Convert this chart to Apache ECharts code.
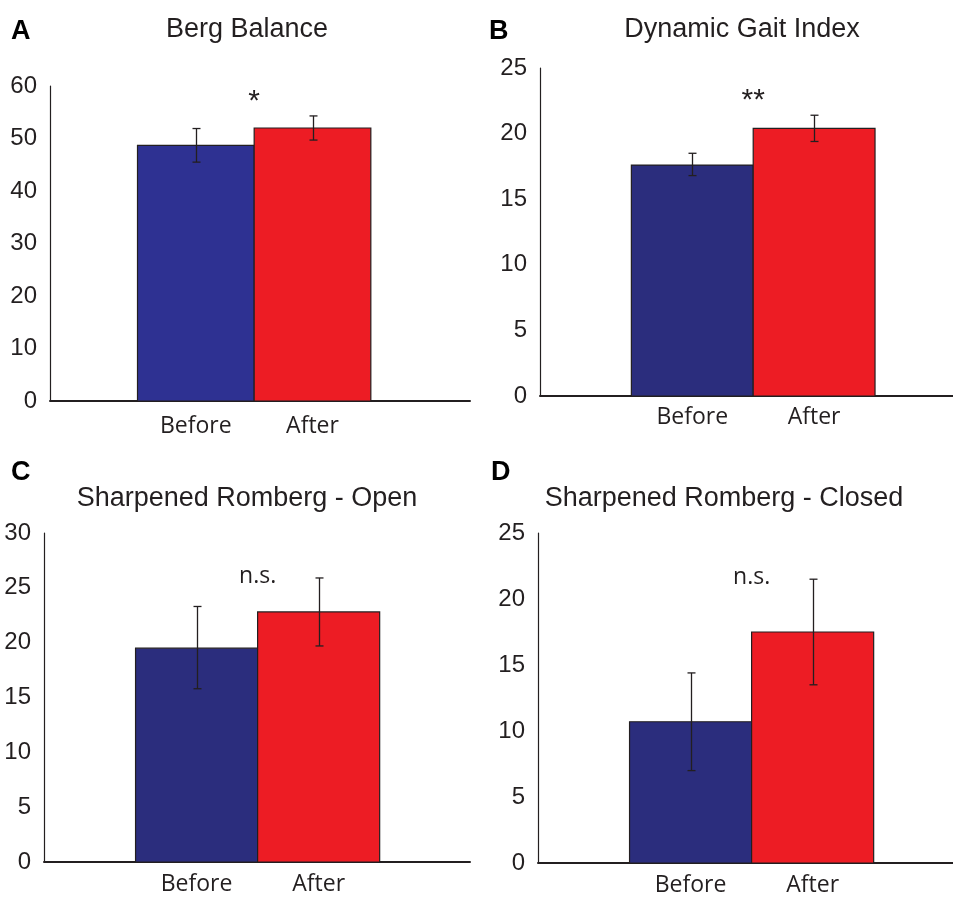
<!DOCTYPE html>
<html>
<head>
<meta charset="utf-8">
<script src="https://cdn.jsdelivr.net/npm/echarts@6/dist/echarts.min.js"></script>
<style>
  html, body { margin: 0; padding: 0; background: #fff; }
  #chart { width: 953px; height: 897px; }
</style>
</head>
<body>
<div id="chart"></div>
<script>
// 数据
const categories = ['Before', 'After'];

const bergMean = [48.7, 52.0];
const bergLow = [45.5, 49.7];
const bergHigh = [51.9, 54.3];

const gaitMean = [17.6, 20.4];
const gaitLow = [16.8, 19.4];
const gaitHigh = [18.5, 21.4];

const openMean = [19.5, 22.8];
const openLow = [15.8, 19.7];
const openHigh = [23.3, 25.9];

const closedMean = [10.7, 17.5];
const closedLow = [7.0, 13.5];
const closedHigh = [14.4, 21.5];

const panelTitles = ['Berg Balance', 'Dynamic Gait Index', 'Sharpened Romberg - Open', 'Sharpened Romberg - Closed'];
const panelLetters = ['A', 'B', 'C', 'D'];
const panelMarks = ['*', '**', 'n.s.', 'n.s.'];
const yMax = [60, 25, 30, 25];
const yStep = [10, 5, 5, 5];

const ink = '#231f20';
const red = '#ed1c24';
const tickFont = '"Liberation Sans", Arial, sans-serif';
const labelFont = '"Open Sans", sans-serif';

// 布局（像素）
const panels = [
  { mean: bergMean, low: bergLow, high: bergHigh, blue: '#2e3192',
    grid: { left: 50, top: 86, width: 420, height: 315 }, xMax: 3.6, labelMargin: 14,
    titleX: 247, titleY: 16, letterX: 11, letterY: 18 },
  { mean: gaitMean, low: gaitLow, high: gaitHigh, blue: '#2b2d7d',
    grid: { left: 540, top: 68, width: 413, height: 328 }, xMax: 3.39, labelMargin: 10,
    titleX: 742, titleY: 16, letterX: 489, letterY: 18 },
  { mean: openMean, low: openLow, high: openHigh, blue: '#2b2d7d',
    grid: { left: 44, top: 533, width: 426, height: 329 }, xMax: 3.49, labelMargin: 11,
    titleX: 247, titleY: 485, letterX: 11, letterY: 459 },
  { mean: closedMean, low: closedLow, high: closedHigh, blue: '#2b2d7d',
    grid: { left: 538, top: 533, width: 415, height: 330 }, xMax: 3.4, labelMargin: 11,
    titleX: 724, titleY: 485, letterX: 491, letterY: 459 }
];

const barStart = 0.75; // 第一根柱子左边缘（x轴数值）

function makeBarRenderer(p) {
  return function (params, api) {
    const i = api.value(0);
    const v = api.value(1);
    const lo = api.value(2);
    const hi = api.value(3);
    const tl = api.coord([barStart + i, v]);
    const br = api.coord([barStart + i + 1, 0]);
    const eLo = api.coord([barStart + i + 0.5, lo]);
    const eHi = api.coord([barStart + i + 0.5, hi]);
    const cx = Math.round(eLo[0]) + 0.5;
    const lineStyle = { stroke: ink, lineWidth: 1.3 };
    return {
      type: 'group',
      children: [
        { type: 'rect', shape: { x: tl[0], y: tl[1], width: br[0] - tl[0], height: br[1] - tl[1] },
          style: { fill: i === 0 ? p.blue : red, stroke: ink, lineWidth: 1.2 } },
        { type: 'line', shape: { x1: cx, y1: eLo[1], x2: cx, y2: eHi[1] }, style: lineStyle },
        { type: 'line', shape: { x1: cx - 4, y1: eLo[1], x2: cx + 4, y2: eLo[1] }, style: lineStyle },
        { type: 'line', shape: { x1: cx - 4, y1: eHi[1], x2: cx + 4, y2: eHi[1] }, style: lineStyle }
      ]
    };
  };
}

function makeMarkRenderer(mark) {
  return function (params, api) {
    const pt = api.coord([barStart + 1, api.value(0)]);
    const isStar = mark.charAt(0) === '*';
    return {
      type: 'text',
      x: pt[0],
      y: pt[1] - (isStar ? 14 : 2),
      style: {
        text: mark,
        align: 'center',
        verticalAlign: 'middle',
        fill: ink,
        font: isStar ? '30px ' + tickFont : '23px ' + labelFont
      }
    };
  };
}

const option = {
  animation: false,
  backgroundColor: '#fff',
  title: [],
  grid: [],
  xAxis: [],
  yAxis: [],
  series: []
};

panels.forEach((p, k) => {
  option.title.push({
    text: panelTitles[k], left: p.titleX, top: p.titleY, textAlign: 'center', padding: 0,
    textStyle: { fontFamily: tickFont, fontSize: 27, fontWeight: 'normal', color: ink }
  });
  option.title.push({
    text: panelLetters[k], left: p.letterX, top: p.letterY, padding: 0,
    textStyle: { fontFamily: tickFont, fontSize: 27, fontWeight: 'bold', color: '#000' }
  });
  option.grid.push(p.grid);
  option.xAxis.push({
    gridIndex: k, type: 'value', min: 0, max: p.xMax,
    splitLine: { show: false },
    axisTick: { show: false },
    axisLine: { show: true, lineStyle: { color: ink, width: 2 } },
    axisLabel: {
      customValues: [barStart + 0.5, barStart + 1.5],
      formatter: v => categories[Math.round(v - barStart - 0.5)],
      fontFamily: labelFont, fontSize: 23, color: ink, margin: p.labelMargin
    }
  });
  option.yAxis.push({
    gridIndex: k, type: 'value', min: 0, max: yMax[k], interval: yStep[k],
    splitLine: { show: false },
    axisTick: { show: false },
    axisLine: { show: true, lineStyle: { color: ink, width: 1.2 } },
    axisLabel: { fontFamily: tickFont, fontSize: 24, color: ink, margin: 13 }
  });
  option.series.push({
    type: 'custom', xAxisIndex: k, yAxisIndex: k,
    renderItem: makeBarRenderer(p),
    data: categories.map((c, i) => [i, p.mean[i], p.low[i], p.high[i]])
  });
  option.series.push({
    type: 'custom', xAxisIndex: k, yAxisIndex: k,
    renderItem: makeMarkRenderer(panelMarks[k]),
    data: [[Math.max(...p.high)]]
  });
});

const chart = echarts.init(document.getElementById('chart'));
chart.setOption(option);
window.addEventListener('resize', () => { chart.resize() });
</script>
</body>
</html>
